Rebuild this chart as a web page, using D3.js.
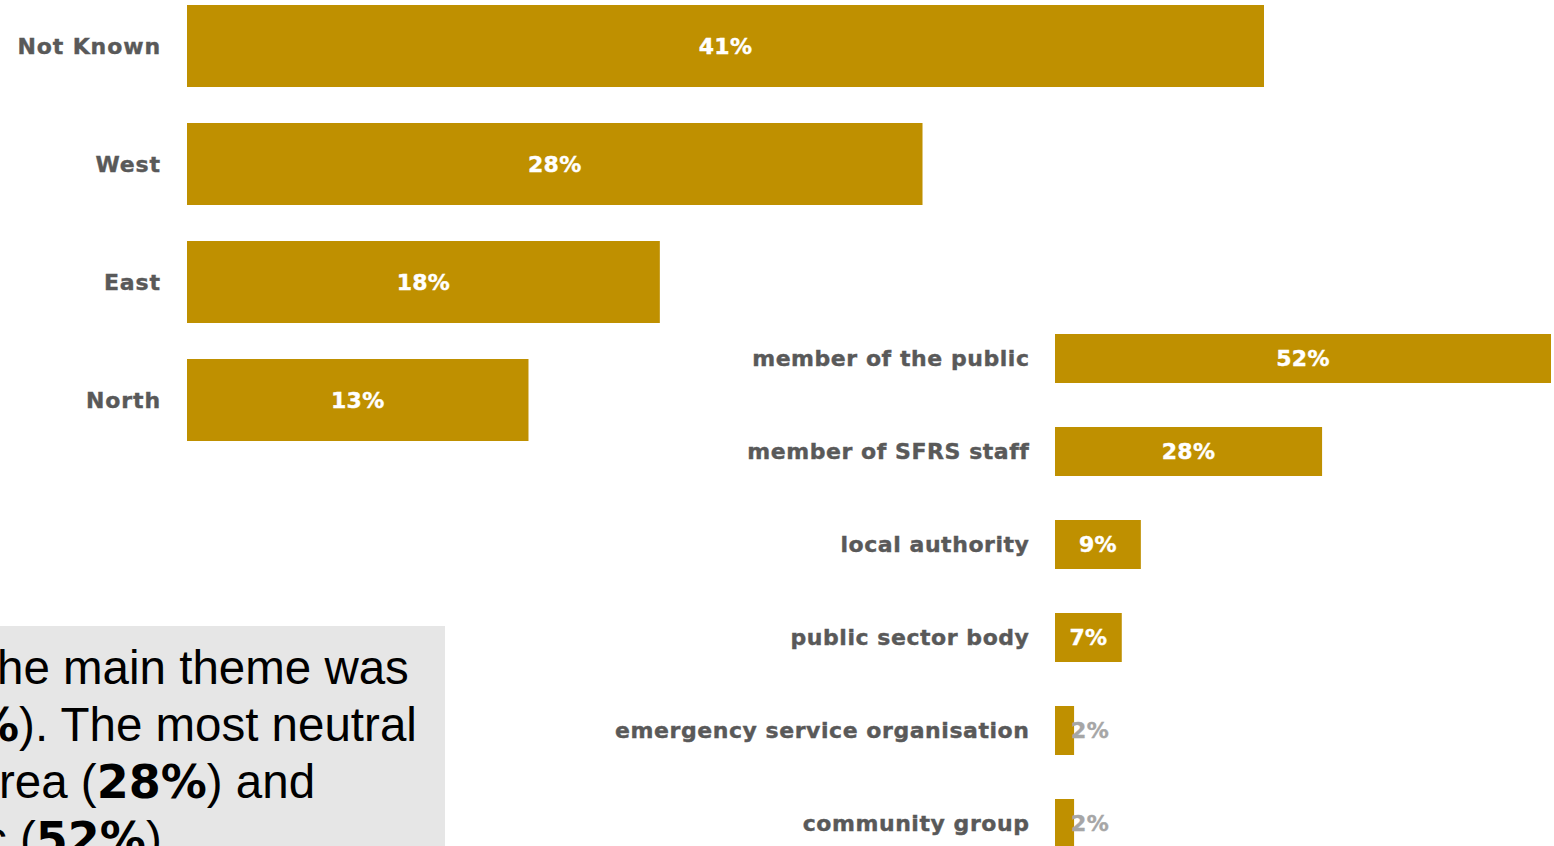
<!DOCTYPE html>
<html>
<head>
<meta charset="utf-8">
<script src="https://cdn.jsdelivr.net/npm/d3@7"></script>
<style>
  html, body { margin: 0; padding: 0; background: #ffffff; overflow: hidden; }
  svg { display: block; }
</style>
</head>
<body>
<svg id="chart" width="1554" height="846"></svg>
<script>
// Responses by area
const areaCategories = ["Not Known", "West", "East", "North"];
const areaValues = [41, 28, 18, 13];

// Responses by respondent type
const sourceCategories = [
  "member of the public",
  "member of SFRS staff",
  "local authority",
  "public sector body",
  "emergency service organisation",
  "community group"
];
const sourceValues = [52, 28, 9, 7, 2, 2];

// Summary text lines (visible portion), with bold runs flagged
const summaryLines = [
  [{ t: "he main theme was", b: false }],
  [{ t: "%", b: true }, { t: "). The most neutral", b: false }],
  [{ t: "rea (", b: false }, { t: "28%", b: true }, { t: ") and", b: false }],
  [{ t: "c (", b: false }, { t: "52%", b: true }, { t: ").", b: false }]
];

const BAR = "#bf9000";
const LABEL = "#595959";
const labelFont = "'DejaVu Sans', 'Liberation Sans', Arial, sans-serif";

const svg = d3.select("#chart");

function drawBars(g, cats, vals, x, y, labelRight, spacing) {
  g.selectAll("rect.bar")
    .data(vals)
    .join("rect")
    .attr("class", "bar")
    .attr("x", x(0))
    .attr("y", (d, i) => y(cats[i]))
    .attr("width", d => x(d) - x(0))
    .attr("height", y.bandwidth())
    .attr("fill", BAR);

  // category labels
  g.selectAll("text.cat")
    .data(cats)
    .join("text")
    .attr("class", "cat")
    .attr("x", labelRight)
    .attr("y", d => y(d) + y.bandwidth() / 2)
    .attr("dy", "0.36em")
    .attr("text-anchor", "end")
    .attr("font-family", labelFont)
    .attr("font-weight", "bold")
    .attr("font-size", 22)
    .attr("letter-spacing", spacing)
    .attr("fill", LABEL)
    .attr("stroke", LABEL)
    .attr("stroke-width", 0.4)
    .text(d => d);

  // value labels
  g.selectAll("text.val")
    .data(vals)
    .join("text")
    .attr("class", "val")
    .attr("font-family", labelFont)
    .attr("font-weight", "bold")
    .attr("font-size", 22)
    .attr("letter-spacing", 0.3)
    .attr("y", (d, i) => y(cats[i]) + y.bandwidth() / 2)
    .attr("dy", "0.36em")
    .each(function (d) {
      const w = x(d) - x(0);
      const s = d3.select(this).text(d + "%");
      if (w > 60) {
        s.attr("x", x(0) + w / 2).attr("text-anchor", "middle")
          .attr("fill", "#ffffff").attr("stroke", "#ffffff").attr("stroke-width", 0.4);
      } else {
        s.attr("x", x(d) - 3).attr("text-anchor", "start")
          .attr("fill", "#a6a6a6").attr("stroke", "#a6a6a6").attr("stroke-width", 0.4);
      }
    });
}

// Left chart: area
const xArea = d3.scaleLinear().domain([0, 41]).range([187, 1264]);
const yArea = d3.scaleBand().domain(areaCategories).range([-13, 459])
  .paddingInner(36 / 118).paddingOuter(18 / 118);
drawBars(svg.append("g"), areaCategories, areaValues, xArea, yArea, 161, 0.9);

// Right chart: respondent type
const xSource = d3.scaleLinear().domain([0, 52]).range([1055, 1551]);
const ySource = d3.scaleBand().domain(sourceCategories).range([312, 870])
  .paddingInner(44 / 93).paddingOuter(22 / 93);
drawBars(svg.append("g"), sourceCategories, sourceValues, xSource, ySource, 1029.5, 0.55);

// Summary box
const box = svg.append("g");
box.append("rect")
  .attr("x", 0).attr("y", 626)
  .attr("width", 445).attr("height", 240)
  .attr("fill", "#e6e6e6");

const lineX = [-3, -27, -1, -17];
const lineY = [684, 741, 798, 855];
summaryLines.forEach((runs, i) => {
  const t = box.append("text")
    .attr("x", lineX[i]).attr("y", lineY[i])
    .attr("font-size", 47.5)
    .attr("fill", "#000000");
  runs.forEach(r => {
    t.append("tspan")
      .attr("font-family", r.b ? labelFont : "'Liberation Sans', Arial, sans-serif")
      .attr("font-weight", r.b ? "bold" : "normal")
      .attr("font-size", r.b ? 46 : 47.5)
      .text(r.t);
  });
});
</script>
</body>
</html>
